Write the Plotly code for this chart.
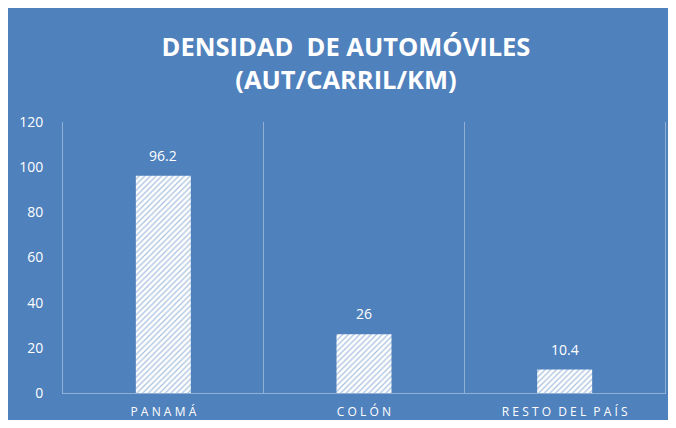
import plotly.graph_objects as go

categories = ["PANAMÁ", "COLÓN", "RESTO DEL PAÍS"]
values = [96.2, 26, 10.4]
value_labels = ["96.2", "26", "10.4"]
y_ticks = [0, 20, 40, 60, 80, 100, 120]

BLUE = "#4F81BD"
LINE = "rgba(200,215,235,0.55)"
FONT = "Open Sans"

def spaced(s):
    words = s.split(" ")
    return "\u2009 \u2009".join("\u2009\u200a".join(list(w)) for w in words)

fig = go.Figure()
fig.add_trace(go.Bar(
    x=categories, y=values,
    marker=dict(color="white",
                line=dict(width=0),
                pattern=dict(shape="/", fgcolor=BLUE, bgcolor="white",
                             size=4, solidity=0.3, fillmode="overlay")),
    hoverinfo="skip",
))

for c, v, t in zip(categories, values, value_labels):
    fig.add_annotation(x=c, y=v, text=t, showarrow=False, yanchor="bottom",
                       yshift=9, font=dict(family=FONT, size=14, color="white"))

fig.update_layout(
    width=676, height=412,
    margin=dict(l=55, r=19, t=114, b=27),
    paper_bgcolor=BLUE, plot_bgcolor=BLUE,
    showlegend=False,
    bargap=0.726,
    title=dict(text="DENSIDAD  DE AUTOMÓVILES<br>(AUT/CARRIL/KM)",
               x=0.5, xanchor="center", xref="container",
               y=1 - 47.5 / 412, yanchor="middle", yref="container",
               font=dict(family=FONT, size=25.5, color="white", weight="bold")),
    xaxis=dict(type="category", tickson="boundaries", showgrid=True,
               gridcolor=LINE, gridwidth=1, ticks="", automargin=False,
               showline=True, linecolor=LINE, linewidth=1,
               tickvals=categories, ticktext=[spaced(c) for c in categories],
               tickfont=dict(family=FONT, size=12, color="white"),
               ticklabelstandoff=8,
               range=[-0.5, 2.5]),
    yaxis=dict(range=[0, 120], tickvals=y_ticks, showgrid=False,
               zeroline=False, showline=True, mirror=True,
               linecolor=LINE, linewidth=1, ticks="", automargin=False,
               ticklabelstandoff=16,
               tickfont=dict(family=FONT, size=14, color="white")),
)

fig.write_html("out.html")
